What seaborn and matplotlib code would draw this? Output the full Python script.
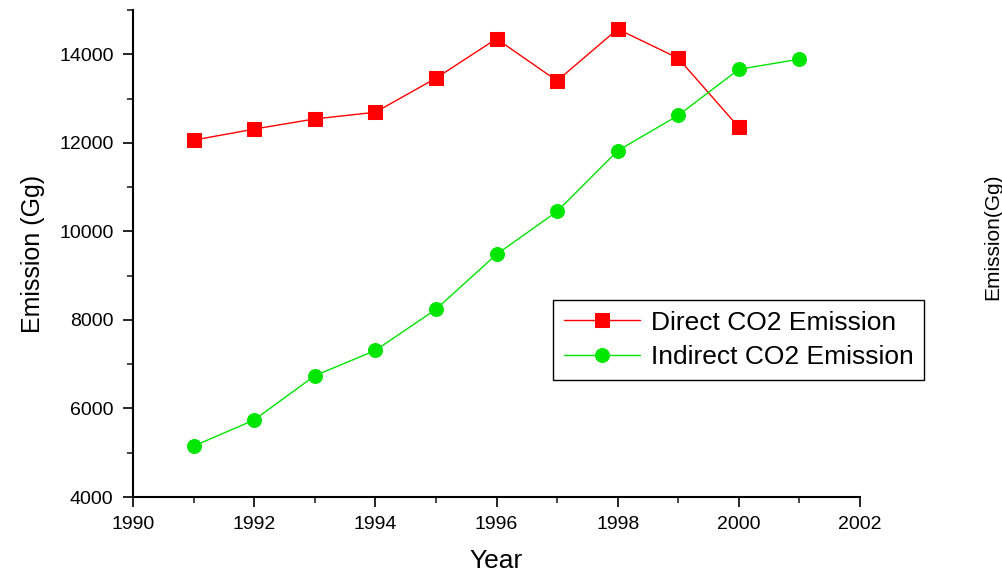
import matplotlib
matplotlib.use("Agg")
import matplotlib.pyplot as plt
from matplotlib.ticker import MultipleLocator
import pandas as pd
import seaborn as sns

# values
years_direct = [1991, 1992, 1993, 1994, 1995, 1996, 1997, 1998, 1999, 2000]
direct_co2 = [12060, 12310, 12540, 12690, 13460, 14350, 13400, 14570, 13910, 12350]

years_indirect = [1991, 1992, 1993, 1994, 1995, 1996, 1997, 1998, 1999, 2000, 2001]
indirect_co2 = [5150, 5740, 6740, 7310, 8240, 9480, 10450, 11820, 12620, 13660, 13890]

x_ticks = [1990, 1992, 1994, 1996, 1998, 2000, 2002]
y_ticks = [4000, 6000, 8000, 10000, 12000, 14000]

sns.set_style("ticks")
plt.rcParams['font.family'] = ['Liberation Sans', 'DejaVu Sans']
plt.rcParams['text.color'] = 'black'
plt.rcParams['axes.labelcolor'] = 'black'

df_direct = pd.DataFrame({'Year': years_direct, 'Emission': direct_co2})
df_indirect = pd.DataFrame({'Year': years_indirect, 'Emission': indirect_co2})

fig = plt.figure(figsize=(10.03, 5.75), dpi=100)
ax = fig.add_axes([133 / 1003, 1 - 497 / 575, 727 / 1003, 487 / 575])

sns.lineplot(data=df_direct, x='Year', y='Emission', ax=ax, color='#ff0000',
             marker='s', markersize=9.5, markeredgecolor='#ff0000', linewidth=1,
             label='Direct CO2 Emission')
sns.lineplot(data=df_indirect, x='Year', y='Emission', ax=ax, color='#00e600',
             marker='o', markersize=10, markeredgecolor='#00e600', linewidth=1,
             label='Indirect CO2 Emission')

ax.set_xlim(1990, 2002)
ax.set_ylim(4000, 15000)
ax.set_xticks(x_ticks)
ax.set_yticks(y_ticks)
ax.xaxis.set_minor_locator(MultipleLocator(1))
ax.yaxis.set_minor_locator(MultipleLocator(1000))
ax.tick_params(which='major', direction='out', length=7, width=1.2, labelsize=14,
               colors='black', pad=7)
ax.tick_params(which='minor', direction='out', length=4, width=1.2)

sns.despine(ax=ax)
for side in ['left', 'bottom']:
    ax.spines[side].set_linewidth(1.5)
    ax.spines[side].set_color('black')

ax.set_xlabel('Year', fontsize=19, labelpad=11)
ax.set_ylabel('Emission (Gg)', fontsize=18, labelpad=10)

fig.text(0.99, 1 - 237 / 575, 'Emission(Gg)', rotation=90, fontsize=15,
         ha='center', va='center')

leg = ax.legend(loc='upper left', bbox_to_anchor=((553 - 133) / 727, (497 - 300) / 487),
                borderaxespad=0, fontsize=19, frameon=True, fancybox=False,
                handlelength=2.9, handletextpad=0.4, labelspacing=0.4, borderpad=0.4)
leg.get_frame().set_edgecolor('black')
leg.get_frame().set_linewidth(1.0)
leg.get_frame().set_alpha(1)

fig.savefig('out.png', dpi=100)
